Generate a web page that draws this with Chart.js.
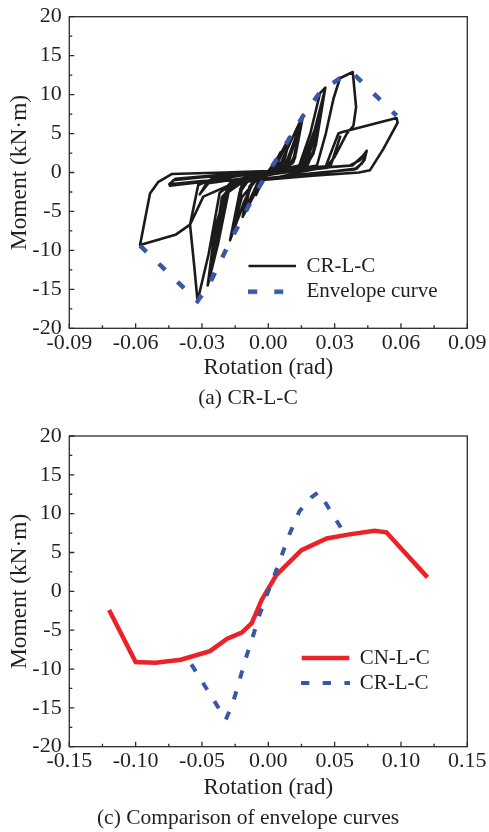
<!DOCTYPE html>
<html><head><meta charset="utf-8">
<script src="https://cdn.jsdelivr.net/npm/chart.js@4.4.1/dist/chart.umd.min.js"></script>
<style>
html,body{margin:0;padding:0;background:#fff;width:489px;height:832px;overflow:hidden}
canvas{position:absolute;left:0}
#c1{top:0}
#c2{top:420px}
</style></head><body>
<canvas id="c1" width="489" height="420"></canvas>
<canvas id="c2" width="489" height="412"></canvas>
<script>
// ---------- data ----------
const xTicksA = [-0.09, -0.06, -0.03, 0, 0.03, 0.06, 0.09];
const xTicksC = [-0.15, -0.10, -0.05, 0, 0.05, 0.10, 0.15];
const yTicks = [-20, -15, -10, -5, 0, 5, 10, 15, 20];

// CR-L-C hysteresis (rotation rad, moment kN·m)
const hystRotation = [
0,0.003,0.0055,0.004,0.001,-0.002,-0.0055,-0.004,-0.001,0.003,0.0052,0.0035,0.0,-0.003,-0.0052,-0.003,0.0,
0.004,0.0098,0.0075,0.004,-0.002,-0.0068,-0.0116,-0.009,-0.005,0.001,0.005,0.0095,0.007,0.003,-0.004,-0.0112,-0.0085,-0.004,0.002,
0.005,0.0092,0.0068,0.003,-0.004,-0.0108,-0.008,-0.004,0.002,
0.006,0.0105,0.0158,0.0125,0.009,0.002,-0.006,-0.011,-0.0173,-0.013,-0.008,0.002,0.008,0.012,0.0155,0.012,0.008,-0.004,-0.012,-0.0168,-0.0125,-0.007,0.003,
0.009,0.0152,0.0115,0.007,-0.006,-0.0165,-0.012,-0.006,0.004,
0.009,0.0148,0.011,0.006,-0.006,-0.016,-0.0115,-0.005,0.004,
0.014,0.019,0.0234,0.0258,0.0215,0.0174,0.008,-0.01,-0.018,-0.0226,-0.0274,-0.024,-0.018,-0.008,0.006,
0.015,0.021,0.0255,0.021,0.0168,0.005,-0.012,-0.019,-0.0268,-0.023,-0.0175,-0.006,0.008,
0.016,0.0225,0.0252,0.0205,0.0165,0.004,-0.013,-0.02,-0.0265,-0.0225,-0.017,-0.005,0.01,
0.017,0.023,0.0248,0.020,0.016,0.004,-0.014,-0.021,-0.026,-0.022,-0.0168,-0.005,0.01,
0.022,0.026,0.0295,0.0324,0.0382,0.0397,0.0385,0.0355,0.030,0.0264,0.015,0.0,-0.015,-0.022,-0.027,-0.032,-0.0335,-0.0354,-0.0317,-0.025,-0.01,0.01,
0.026,0.0317,0.0335,0.058,0.0585,0.052,0.046,0.041,0.02,0.0,-0.015,-0.0294,-0.0354,-0.042,-0.058,-0.0535,-0.0497,-0.0437,-0.02,0.0,0.02,
0.028,0.0325,0.029,0.027,0.01,-0.01,-0.028,-0.031,-0.026,-0.01,0.01,
0.037,0.0415,0.0445,0.0435,0.040,0.025,0.0,-0.03,-0.0445,-0.043,-0.03,-0.01,0.01,0.038,0.0442,0.0425,0.039,0.02,0.0,-0.03,-0.0448,-0.042,-0.025,0.0
];
const hystMoment = [
0,1.2,2.6,1.0,0.1,-0.6,-2.9,-1.1,-0.2,1.3,2.4,0.8,0.0,-0.9,-2.6,-0.8,0.1,
1.6,4.6,1.8,0.5,-0.7,-3.1,-5.7,-2.2,-0.7,0.2,1.8,4.3,1.3,0.3,-0.9,-5.3,-1.8,-0.5,0.3,
1.7,4.1,1.2,0.3,-0.8,-5.0,-1.6,-0.4,0.3,
1.4,4.2,7.4,2.5,0.6,0.1,-0.8,-3.8,-8.7,-2.6,-0.6,0.3,1.2,4.2,7.0,1.8,0.4,-0.5,-3.2,-8.2,-2.0,-0.4,0.3,
1.3,6.7,1.4,0.3,-0.6,-7.8,-1.6,-0.3,0.3,
1.2,6.4,1.2,0.3,-0.6,-7.5,-1.5,-0.3,0.3,
0.9,5.0,10.2,10.9,3.5,0.7,0.1,-0.9,-2.5,-9.0,-14.5,-7.0,-1.6,-0.5,0.3,
0.8,5.5,10.5,3.0,0.6,0.0,-0.8,-2.6,-14.0,-6.5,-1.4,-0.4,0.3,
0.7,6.5,10.2,2.5,0.5,-0.1,-0.9,-3.0,-13.6,-5.8,-1.2,-0.3,0.3,
0.7,7.0,9.8,2.2,0.5,-0.1,-0.9,-3.2,-13.0,-5.2,-1.1,-0.3,0.3,
0.9,5.0,9.5,12.1,12.9,8.4,6.0,5.0,2.0,0.7,0.1,-0.9,-1.2,-2.6,-10.5,-16.5,-12.0,-6.7,-1.6,-0.8,-0.3,0.4,
0.8,5.0,5.2,7.0,6.4,3.0,0.3,0.0,-0.4,-0.9,-1.3,-3.1,-6.7,-8.0,-9.3,-2.7,-1.2,-0.2,0.0,0.2,0.5,
0.7,4.6,1.5,0.6,0.1,-0.7,-1.4,-2.8,-1.0,-0.3,0.3,
0.9,1.6,2.8,1.6,0.5,0.0,-0.8,-1.2,-1.7,-1.0,-0.6,-0.2,0.3,0.9,2.5,1.2,0.4,-0.1,-0.7,-1.1,-1.5,-0.8,-0.4,0.1
];

// CR-L-C envelope curve
const envRotation = [-0.058, -0.032, -0.027, -0.0226, -0.0173, -0.0116, -0.0068, -0.001, 0.0038, 0.0098, 0.0158, 0.0234, 0.0324, 0.038, 0.058];
const envMoment   = [-9.4, -16.5, -14.5, -12.0, -8.8, -5.8, -3.1, -0.4, 1.7, 4.5, 7.3, 10.3, 12.1, 12.8, 7.3];

// CN-L-C envelope curve
const cnRotation = [-0.12, -0.10, -0.085, -0.066, -0.044, -0.031, -0.020, -0.0125, -0.005, 0.006, 0.025, 0.044, 0.060, 0.080, 0.089, 0.12];
const cnMoment   = [-2.4, -9.1, -9.2, -8.8, -7.7, -6.1, -5.3, -4.1, -1.1, 2.1, 5.3, 6.8, 7.3, 7.8, 7.6, 1.8];

// ---------- styling ----------
const FONT = "'Liberation Serif', 'Times New Roman', serif";
const TXT = '#231f20';
const BLACK = '#1c1a1b';
const BLUE = '#3a56a8';
const RED = '#ec2227';

const pts = (xs, ys) => xs.map((x, i) => ({x: x, y: ys[i]}));

// legend sample for a dashed line (drawn as an image point style)
function dashSample(len, width, dash, color) {
  const c = document.createElement('canvas');
  c.width = len; c.height = Math.ceil(width) + 2;
  const g = c.getContext('2d');
  g.strokeStyle = color; g.lineWidth = width; g.setLineDash(dash);
  g.beginPath(); g.moveTo(0, c.height / 2); g.lineTo(len, c.height / 2); g.stroke();
  return c;
}

const framePlugin = {
  id: 'frame',
  beforeDatasetsDraw(chart) {
    const {ctx, chartArea: a, scales: {x, y}} = chart;
    ctx.save();
    ctx.strokeStyle = '#2b2b2b';
    ctx.lineWidth = 1.3;
    ctx.strokeRect(a.left, a.top, a.right - a.left, a.bottom - a.top);
    const xv = x.ticks.map(t => t.value), yv = y.ticks.map(t => t.value);
    ctx.beginPath();
    xv.forEach((v, i) => {
      const p = x.getPixelForValue(v);
      ctx.moveTo(p, a.bottom); ctx.lineTo(p, a.bottom - 5);
      if (i < xv.length - 1) {
        const m = x.getPixelForValue((v + xv[i + 1]) / 2);
        ctx.moveTo(m, a.bottom); ctx.lineTo(m, a.bottom - 3);
      }
    });
    yv.forEach((v, i) => {
      const p = y.getPixelForValue(v);
      ctx.moveTo(a.left, p); ctx.lineTo(a.left + 5, p);
      if (i < yv.length - 1) {
        const m = y.getPixelForValue((v + yv[i + 1]) / 2);
        ctx.moveTo(a.left, m); ctx.lineTo(a.left + 3, m);
      }
    });
    ctx.stroke();
    ctx.restore();
  }
};

const legendPlace = {
  id: 'legendPlace',
  afterLayout(chart, args, opts) {
    const lg = chart.legend;
    const pad = lg.options.labels.padding;
    const fs = lg.options.labels.font.size;
    lg.left = opts.x - pad;
    lg.top = opts.y - fs / 2 - pad;
    lg.right = lg.left + 220;
    lg.bottom = lg.top + 200;
    lg.width = 220;
    lg.height = 200;
    const tb = chart.titleBlock;
    if (tb) { tb.left = opts.captionLeft; tb.width = tb.right - tb.left; }
  }
};

function makeScales(xTicks, xAxisHeight) {
  return {
    x: {
      type: 'linear', min: xTicks[0], max: xTicks[xTicks.length - 1],
      afterBuildTicks: s => { s.ticks = xTicks.map(v => ({value: v})); },
      afterFit: s => { s.height = xAxisHeight; s.paddingLeft = 0; s.paddingRight = 21.7; },
      grid: {display: false, drawTicks: false},
      border: {display: false},
      ticks: {autoSkip: false, maxRotation: 0, minRotation: 0, padding: 1.8, color: TXT,
              font: {family: FONT, size: 22}, callback: v => Number(v).toFixed(2)},
      title: {display: true, text: 'Rotation (rad)', color: TXT,
              font: {family: FONT, size: 23, lineHeight: 1}, padding: {top: 0, bottom: 0}}
    },
    y: {
      type: 'linear', min: yTicks[0], max: yTicks[yTicks.length - 1],
      afterBuildTicks: s => { s.ticks = yTicks.map(v => ({value: v})); },
      afterFit: s => { s.width = 69.3; s.paddingTop = 0; s.paddingBottom = 0; },
      grid: {display: false, drawTicks: false},
      border: {display: false},
      ticks: {autoSkip: false, padding: 7.6, color: TXT,
              font: {family: FONT, size: 22}, callback: v => String(v)},
      title: {display: true, text: 'Moment (kN\u00b7m)', color: TXT,
              font: {family: FONT, size: 23.4, lineHeight: 1}, padding: {top: 8.3, bottom: 0}}
    }
  };
}

function makeOptions(xTicks, xAxisHeight, layoutPad, caption, legendPos, legendPad) {
  return {
    responsive: false, animation: false, devicePixelRatio: 1, events: [],
    layout: {padding: layoutPad},
    scales: makeScales(xTicks, xAxisHeight),
    plugins: {
      tooltip: {enabled: false},
      title: {display: true, position: 'bottom', text: caption, color: TXT,
              font: {family: FONT, size: 21.5, weight: 'normal', lineHeight: 1.2},
              padding: {top: 5.6, bottom: 0}},
      legend: {
        position: 'chartArea', align: 'start',
        labels: {usePointStyle: true, pointStyleWidth: 47.5,
                 padding: legendPad, color: TXT, font: {family: FONT, size: 21},
                 sort: (a, b) => a.datasetIndex - b.datasetIndex}
      },
      legendPlace: legendPos
    }
  };
}

new Chart(document.getElementById('c1'), {
  type: 'scatter',
  data: {
    datasets: [
      {label: 'CR-L-C', data: pts(hystRotation, hystMoment), showLine: true, order: 1,
       borderColor: BLACK, backgroundColor: BLACK, borderWidth: 2.6, pointRadius: 0,
       pointStyle: 'line', borderJoinStyle: 'round', tension: 0},
      {label: 'Envelope curve', data: pts(envRotation, envMoment), showLine: true, order: 0,
       borderColor: BLUE, backgroundColor: BLUE, borderWidth: 4.5, borderDash: [9, 17],
       pointStyle: dashSample(48, 4.5, [9, 17], BLUE), pointRadius: 0, tension: 0}
    ]
  },
  options: makeOptions(xTicksA, 51.2, {top: 16.7, left: 0, right: 0, bottom: 9.1},
                       '(a) CR-L-C', {x: 248.5, y: 266, captionLeft: 7}, 4.7),
  plugins: [framePlugin, legendPlace]
});

new Chart(document.getElementById('c2'), {
  type: 'scatter',
  data: {
    datasets: [
      {label: 'CN-L-C', data: pts(cnRotation, cnMoment), showLine: true, order: 1,
       borderColor: RED, backgroundColor: RED, borderWidth: 4.5, pointRadius: 0, tension: 0,
       pointStyle: 'line', borderJoinStyle: 'miter'},
      {label: 'CR-L-C', data: pts(envRotation, envMoment), showLine: true, order: 0,
       borderColor: BLUE, backgroundColor: BLUE, borderWidth: 4, borderDash: [8.3, 13.4],
       pointStyle: dashSample(49, 4, [8.3, 13.4], BLUE), pointRadius: 0, tension: 0}
    ]
  },
  options: makeOptions(xTicksC, 53.1, {top: 16, left: 0, right: 0, bottom: 0.8},
                       '(c) Comparison of envelope curves', {x: 301.7, y: 238, captionLeft: 7}, 4),
  plugins: [framePlugin, legendPlace]
});
</script></body></html>
